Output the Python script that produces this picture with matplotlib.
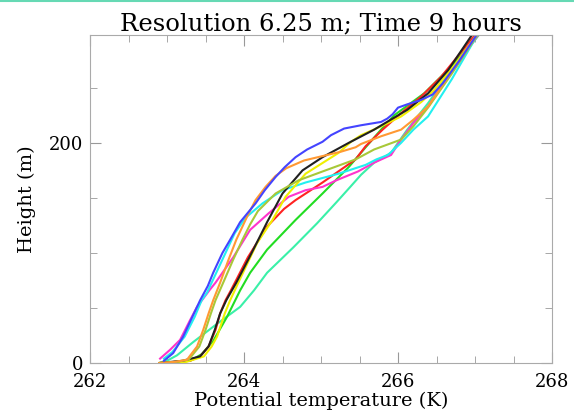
import matplotlib
matplotlib.use('Agg')
import matplotlib.pyplot as plt
from matplotlib.lines import Line2D
from matplotlib.ticker import MultipleLocator

# profiles: potential temperature (K) vs height (m)
blue_t = [262.96, 263.08, 263.21, 263.33, 263.43, 263.53, 263.60, 263.72, 263.82, 263.95, 264.15,
          264.27, 264.41, 264.53, 264.67, 264.82, 265.02, 265.13, 265.30, 265.52, 265.78, 265.86,
          265.93, 266.00, 266.12, 266.30, 266.45, 266.58, 266.80, 267.02]
blue_z = [2, 9, 24, 42, 57, 70, 82, 100, 112, 128, 145, 157, 169, 178, 187, 194, 201, 207, 213, 216,
          219, 222, 226, 232, 235, 239, 244, 254, 275, 298]

orange_t = [262.90, 263.10, 263.26, 263.39, 263.47, 263.54, 263.60, 263.69, 263.80, 263.90, 264.04,
            264.15, 264.28, 264.41, 264.55, 264.78, 265.02, 265.26, 265.45, 265.52, 265.78, 266.04,
            266.20, 266.39, 266.65, 267.02]
orange_z = [0, 1, 3, 15, 30, 45, 57, 73, 94, 112, 133, 148, 160, 170, 177, 184, 188, 192, 196, 199,
            206, 212, 221, 233, 260, 298]

olive_t = [262.90, 263.12, 263.28, 263.42, 263.50, 263.57, 263.63, 263.73, 263.86, 263.98, 264.08,
           264.18, 264.41, 264.71, 265.02, 265.45, 265.69, 266.04, 266.20, 266.40, 266.70, 267.03]
olive_z = [0, 1, 3, 15, 30, 45, 57, 73, 94, 112, 126, 138, 154, 166, 174, 185, 194, 203, 215, 233,
           263, 298]

black_t = [262.90, 263.20, 263.43, 263.54, 263.62, 263.69, 263.77, 263.90, 264.07, 264.20, 264.30,
           264.50, 264.76, 265.02, 265.36, 265.69, 266.12, 266.39, 266.65, 266.96]
black_z = [0, 2, 6, 15, 30, 45, 57, 73, 96, 114, 128, 154, 175, 187, 200, 212, 230, 245, 266, 298]

yellow_t = [262.90, 263.25, 263.48, 263.58, 263.65, 263.75, 263.82, 263.96, 264.17, 264.37, 264.54,
            264.80, 265.23, 265.39, 265.52, 265.78, 266.04, 266.30, 266.47, 266.75, 267.02]
yellow_z = [0, 1, 6, 15, 24, 45, 57, 78, 109, 130, 151, 172, 191, 201, 207, 215, 224, 237, 248, 272,
            298]

cyan_t = [262.96, 263.07, 263.23, 263.36, 263.45, 263.52, 263.64, 263.78, 263.88, 264.02, 264.24,
          264.50, 264.80, 265.23, 265.58, 265.72, 265.87, 266.04, 266.20, 266.39, 266.70, 267.03]
cyan_z = [4, 10, 24, 42, 57, 64, 82, 103, 118, 132, 145, 157, 164, 172, 180, 185, 189, 200, 212,
          224, 258, 298]

magenta_t = [262.91, 263.04, 263.17, 263.30, 263.39, 263.55, 263.63, 263.86, 264.08, 264.32, 264.58,
             264.80, 265.02, 265.20, 265.48, 265.69, 265.91, 266.04, 266.20, 266.39, 266.56, 266.78,
             267.04]
magenta_z = [4, 12, 21, 39, 51, 66, 73, 96, 121, 136, 151, 157, 160, 166, 174, 182, 189, 203, 218,
             233, 251, 272, 298]

red_t = [262.90, 263.30, 263.43, 263.54, 263.63, 263.69, 263.76, 263.83, 264.05, 264.30, 264.52,
         264.67, 265.02, 265.45, 265.58, 265.80, 266.04, 266.30, 266.56, 267.00]
red_z = [0, 2, 6, 15, 30, 45, 57, 66, 96, 124, 140, 148, 164, 185, 197, 212, 227, 242, 260, 298]

green_t = [262.90, 263.30, 263.45, 263.60, 263.78, 263.95, 264.08, 264.30, 264.67, 265.02, 265.36,
           265.58, 265.78, 265.95, 266.34, 266.70, 267.04]
green_z = [0, 2, 8, 20, 42, 66, 82, 103, 130, 154, 178, 196, 212, 225, 245, 270, 298]

spring_t = [262.90, 263.00, 263.13, 263.34, 263.62, 263.95, 264.13, 264.30, 264.64, 264.95, 265.20,
            265.38, 265.52, 265.69, 265.91, 266.12, 266.39, 266.69, 267.05]
spring_z = [0, 2, 7, 19, 34, 51, 66, 82, 105, 127, 146, 160, 171, 182, 191, 212, 236, 266, 298]

profiles = [
    (spring_t, spring_z, '#3af0a8'),
    (green_t, green_z, '#22dd22'),
    (red_t, red_z, '#ff2222'),
    (magenta_t, magenta_z, '#ff33cc'),
    (cyan_t, cyan_z, '#22f0f0'),
    (yellow_t, yellow_z, '#f0f000'),
    (black_t, black_z, '#202020'),
    (olive_t, olive_z, '#a8c838'),
    (orange_t, orange_z, '#ff9933'),
    (blue_t, blue_z, '#4444ff'),
]

x_ticks = [262, 264, 266, 268]
y_ticks = [0, 200]

plt.rcParams['font.family'] = 'DejaVu Serif'

fig = plt.figure(figsize=(5.74, 4.16), dpi=100)
ax = fig.add_axes([90 / 574, 1 - 363 / 416, 462 / 574, 328 / 416])

for t, z, c in profiles:
    ax.plot(t, z, color=c, lw=1.5, solid_joinstyle='round')

ax.set_xlim(262, 268)
ax.set_ylim(0, 298)
ax.set_xticks(x_ticks)
ax.set_yticks(y_ticks)
ax.xaxis.set_minor_locator(MultipleLocator(0.5))
ax.yaxis.set_minor_locator(MultipleLocator(50))
ax.tick_params(which='both', direction='in', top=True, right=True, color='#999999',
               labelsize=13)
ax.tick_params(axis='x', pad=7)
ax.tick_params(axis='y', pad=5)
ax.tick_params(which='major', length=8)
ax.tick_params(which='minor', length=5)
for s in ax.spines.values():
    s.set_color('#aaaaaa')

ax.set_xlabel('Potential temperature (K)', fontsize=14, labelpad=1)
ax.set_ylabel('Height (m)', fontsize=14, labelpad=9)
ax.set_title('Resolution 6.25 m; Time 9 hours', fontsize=17.5, pad=3)

# thin teal border at the top of the screenshot
fig.add_artist(Line2D([0, 1], [0.998, 0.998], color='#66d9b4', lw=1.5, transform=fig.transFigure))

fig.savefig('out.png', dpi=100)
